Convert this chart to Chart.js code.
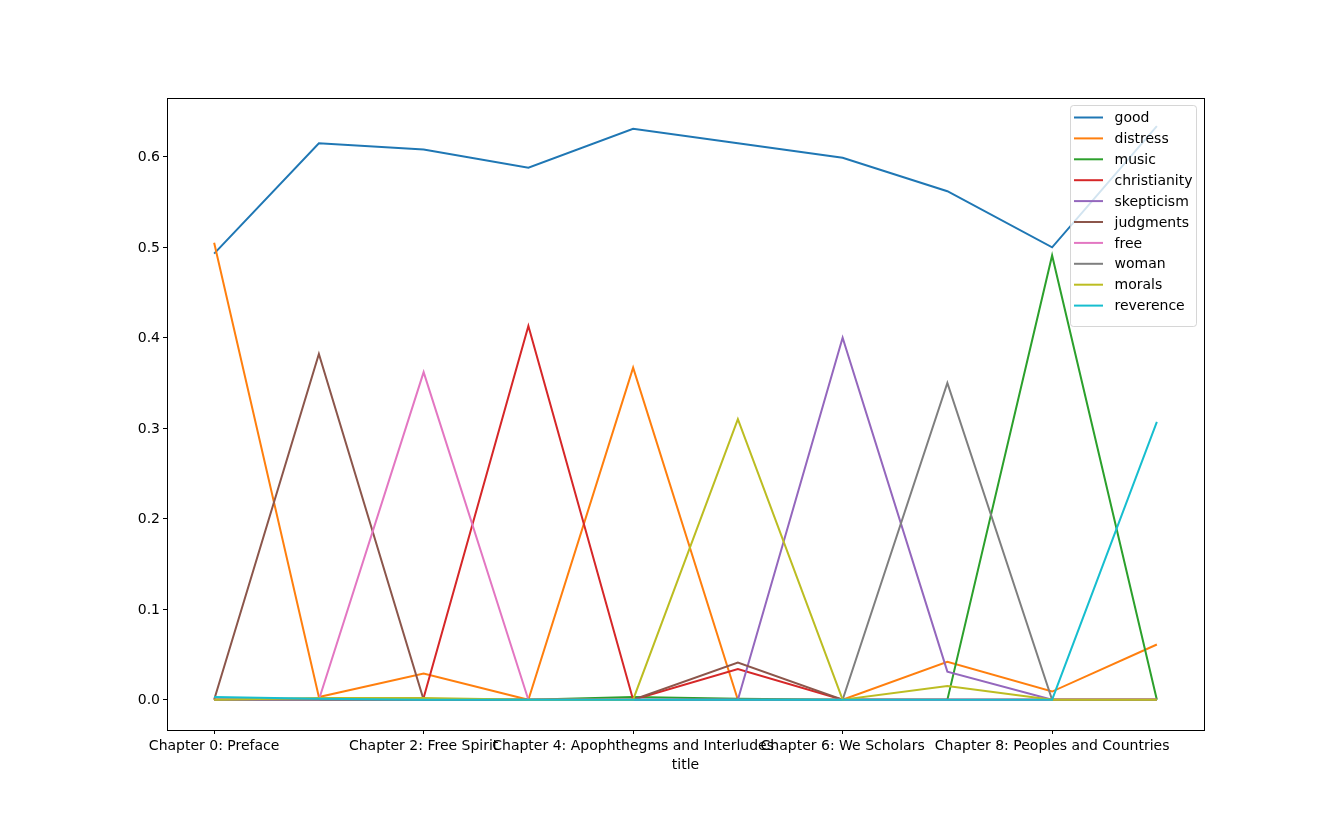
<!DOCTYPE html>
<html>
<head>
<meta charset="utf-8">
<script src="https://cdn.jsdelivr.net/npm/chart.js@4.4.1/dist/chart.umd.min.js"></script>
<style>
  html, body { margin: 0; padding: 0; background: #fff; }
  #wrap { width: 1338px; height: 819px; }
</style>
</head>
<body>
<div id="wrap"><canvas id="chart" width="1338" height="819"></canvas></div>
<script>
// chapters (x positions 0..9), only even ones get a tick label
const chapterIdx = [0, 1, 2, 3, 4, 5, 6, 7, 8, 9];
const tickLabels = {
    0: "Chapter 0: Preface",
    2: "Chapter 2: Free Spirit",
    4: "Chapter 4: Apophthegms and Interludes",
    6: "Chapter 6: We Scholars",
    8: "Chapter 8: Peoples and Countries"
};

const good         = [0.493, 0.615, 0.608, 0.588, 0.631, 0.615, 0.599, 0.562, 0.500, 0.634];
const distress     = [0.505, 0.003, 0.029, 0.000, 0.367, 0.000, 0.000, 0.042, 0.009, 0.061];
const music        = [0.000, 0.000, 0.000, 0.000, 0.003, 0.001, 0.000, 0.000, 0.491, 0.000];
const christianity = [0.000, 0.000, 0.002, 0.413, 0.000, 0.034, 0.000, 0.000, 0.000, 0.000];
const skepticism   = [0.000, 0.000, 0.000, 0.000, 0.000, 0.000, 0.400, 0.031, 0.000, 0.000];
const judgments    = [0.000, 0.382, 0.000, 0.000, 0.000, 0.041, 0.000, 0.000, 0.000, 0.000];
const free         = [0.000, 0.000, 0.362, 0.000, 0.000, 0.000, 0.000, 0.000, 0.000, 0.000];
const woman        = [0.000, 0.000, 0.000, 0.000, 0.000, 0.000, 0.000, 0.350, 0.000, 0.000];
const morals       = [0.000, 0.002, 0.002, 0.000, 0.000, 0.310, 0.000, 0.015, 0.000, 0.000];
const reverence    = [0.003, 0.001, 0.000, 0.000, 0.000, 0.000, 0.000, 0.000, 0.000, 0.307];

const yTicks = [0.0, 0.1, 0.2, 0.3, 0.4, 0.5, 0.6];

const series = [
    ["good", good, "#1f77b4"],
    ["distress", distress, "#ff7f0e"],
    ["music", music, "#2ca02c"],
    ["christianity", christianity, "#d62728"],
    ["skepticism", skepticism, "#9467bd"],
    ["judgments", judgments, "#8c564b"],
    ["free", free, "#e377c2"],
    ["woman", woman, "#7f7f7f"],
    ["morals", morals, "#bcbd22"],
    ["reverence", reverence, "#17becf"]
];

const FONT = "'DejaVu Sans', sans-serif";

// frame around the plot + matplotlib-like legend in the upper right
const mplDecor = {
    id: "mplDecor",
    afterDraw(chart) {
        const ctx = chart.ctx;
        const a = chart.chartArea;
        ctx.save();
        ctx.strokeStyle = "#000";
        ctx.lineWidth = 1;
        ctx.strokeRect(Math.round(a.left) + 0.5, Math.round(a.top) + 0.5,
                       Math.round(a.right - a.left), Math.round(a.bottom - a.top));

        // legend
        const sets = chart.data.datasets;
        const rowH = 20.9;
        const boxR = a.right - 7.5;
        const boxL = boxR - 126;
        const boxT = a.top + 7.5;
        const boxB = boxT + 12 + rowH * sets.length;
        ctx.beginPath();
        ctx.roundRect(boxL, boxT, boxR - boxL, boxB - boxT, 3);
        ctx.fillStyle = "rgba(255,255,255,0.8)";
        ctx.fill();
        ctx.strokeStyle = "rgba(204,204,204,0.8)";
        ctx.lineWidth = 1;
        ctx.stroke();

        ctx.font = "14px " + FONT;
        ctx.textBaseline = "middle";
        ctx.fillStyle = "#000";
        sets.forEach((ds, i) => {
            const y = boxT + 12 + rowH * i;
            ctx.beginPath();
            ctx.moveTo(boxL + 3.5, y);
            ctx.lineTo(boxL + 32.5, y);
            ctx.strokeStyle = ds.borderColor;
            ctx.lineWidth = 2;
            ctx.stroke();
            ctx.fillText(ds.label, boxL + 44, y + 1);
        });
        ctx.restore();
    }
};

const ctx = document.getElementById("chart").getContext("2d");
new Chart(ctx, {
    type: "line",
    data: {
        datasets: series.map(([name, vals, color], k) => ({
            label: name,
            data: chapterIdx.map((x, i) => ({ x: x, y: vals[i] })),
            borderColor: color,
            backgroundColor: color,
            borderWidth: 2,
            pointRadius: 0,
            tension: 0,
            fill: false,
            order: series.length - k   // later series drawn on top, like matplotlib
        }))
    },
    options: {
        responsive: false,
        animation: false,
        layout: { padding: { left: 117, right: 134, top: 98, bottom: 45 } },
        plugins: {
            legend: { display: false },
            tooltip: { enabled: false }
        },
        scales: {
            x: {
                type: "linear",
                min: -0.45,
                max: 9.45,
                afterBuildTicks: s => { s.ticks = [0, 2, 4, 6, 8].map(v => ({ value: v })); },
                afterFit: s => { s.height = 44; },
                grid: { display: true, drawOnChartArea: false, drawTicks: true, tickLength: 4, color: "#000", tickWidth: 1 },
                border: { display: true, color: "#000", width: 1 },
                ticks: {
                    autoSkip: false,
                    maxRotation: 0,
                    minRotation: 0,
                    padding: 4,
                    color: "#000",
                    font: { family: FONT, size: 14 },
                    callback: v => tickLabels[v] || ""
                },
                title: {
                    display: true,
                    text: "title",
                    color: "#000",
                    font: { family: FONT, size: 14 },
                    padding: { top: 0, bottom: 0 }
                }
            },
            y: {
                min: -0.0335,
                max: 0.665,
                afterBuildTicks: s => { s.ticks = yTicks.map(v => ({ value: v })); },
                afterFit: s => { s.width = 50; },
                grid: { display: true, drawOnChartArea: false, drawTicks: true, tickLength: 4, color: "#000", tickWidth: 1 },
                border: { display: true, color: "#000", width: 1 },
                ticks: {
                    padding: 3,
                    labelOffset: 1,
                    color: "#000",
                    font: { family: FONT, size: 14 },
                    callback: v => v.toFixed(1)
                }
            }
        }
    },
    plugins: [mplDecor]
});
</script>
</body>
</html>
